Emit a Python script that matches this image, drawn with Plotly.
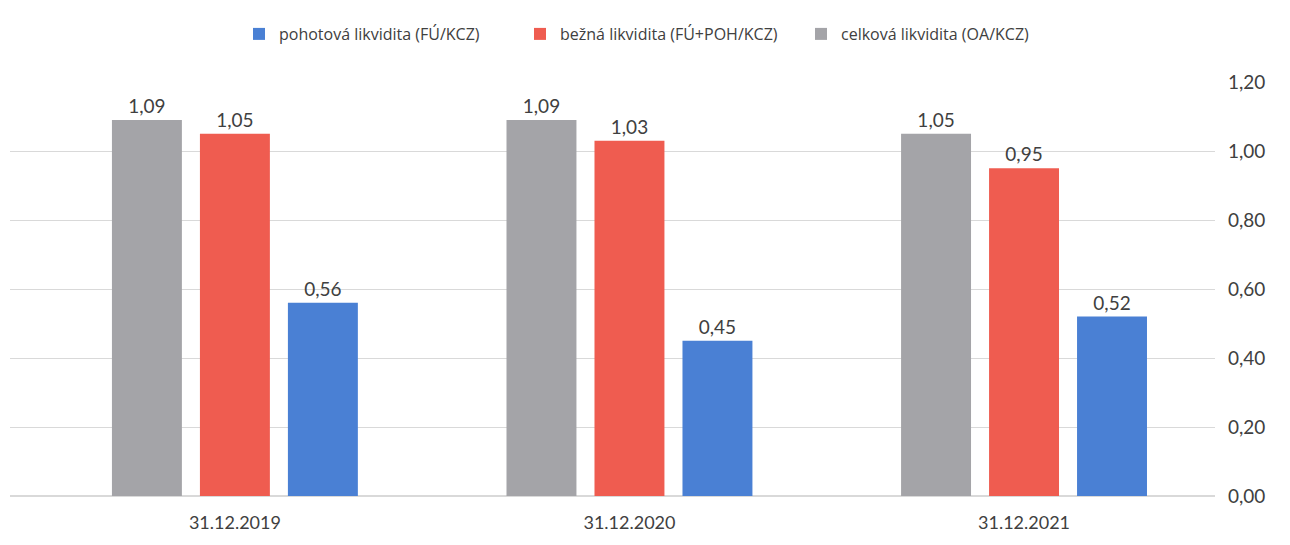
import plotly.graph_objects as go

categories = ["31.12.2019", "31.12.2020", "31.12.2021"]
series_names = ["celková likvidita (OA/KCZ)", "bežná likvidita (FÚ+POH/KCZ)", "pohotová likvidita (FÚ/KCZ)"]
celkova = [1.09, 1.09, 1.05]
bezna = [1.05, 1.03, 0.95]
pohotova = [0.56, 0.45, 0.52]
colors = ["#a4a4a8", "#ef5c50", "#4a80d4"]
y_ticks = [0, 0.2, 0.4, 0.6, 0.8, 1.0, 1.2]

fig = go.Figure()
for name, vals, col in zip(series_names, [celkova, bezna, pohotova], colors):
    fig.add_trace(go.Bar(
        x=categories, y=vals, name=name, marker=dict(color=col, line=dict(width=0)),
        texttemplate="%{y:.2f}", textposition="outside",
        textfont=dict(size=19, color="#404040", family="Lato, Open Sans, sans-serif"),
        cliponaxis=False,
    ))

fig.update_layout(
    width=1290, height=545,
    paper_bgcolor="white", plot_bgcolor="white",
    separators=", ",
    barmode="group", bargap=0.331, bargroupgap=0.205,
    margin=dict(l=2, r=83, t=74, b=57, autoexpand=False),
    font=dict(family="Lato, Open Sans, sans-serif", color="#404040"),
    legend=dict(orientation="h", traceorder="reversed",
                xref="container", x=231 / 1290, xanchor="left",
                yref="container", y=1 - 26 / 545, yanchor="middle",
                font=dict(size=16, color="#404040", family="Open Sans, sans-serif"),
                itemwidth=30, entrywidth=236, entrywidthmode="pixels"),
    xaxis=dict(type="category", range=[-0.57, 2.484], showgrid=False, showline=False,
               ticks="", tickfont=dict(size=18, color="#404040"), ticklabelstandoff=14,
               automargin=False),
    yaxis=dict(side="right", range=[0, 1.2], tickvals=y_ticks, tickformat=".2f",
               showgrid=True, gridcolor="#d9d9d9", gridwidth=1, zeroline=True,
               zerolinecolor="#d9d9d9", showline=False, ticks="",
               tickfont=dict(size=19, color="#404040"), ticklabelstandoff=12,
               automargin=False),
)

fig.write_html("out.html")
